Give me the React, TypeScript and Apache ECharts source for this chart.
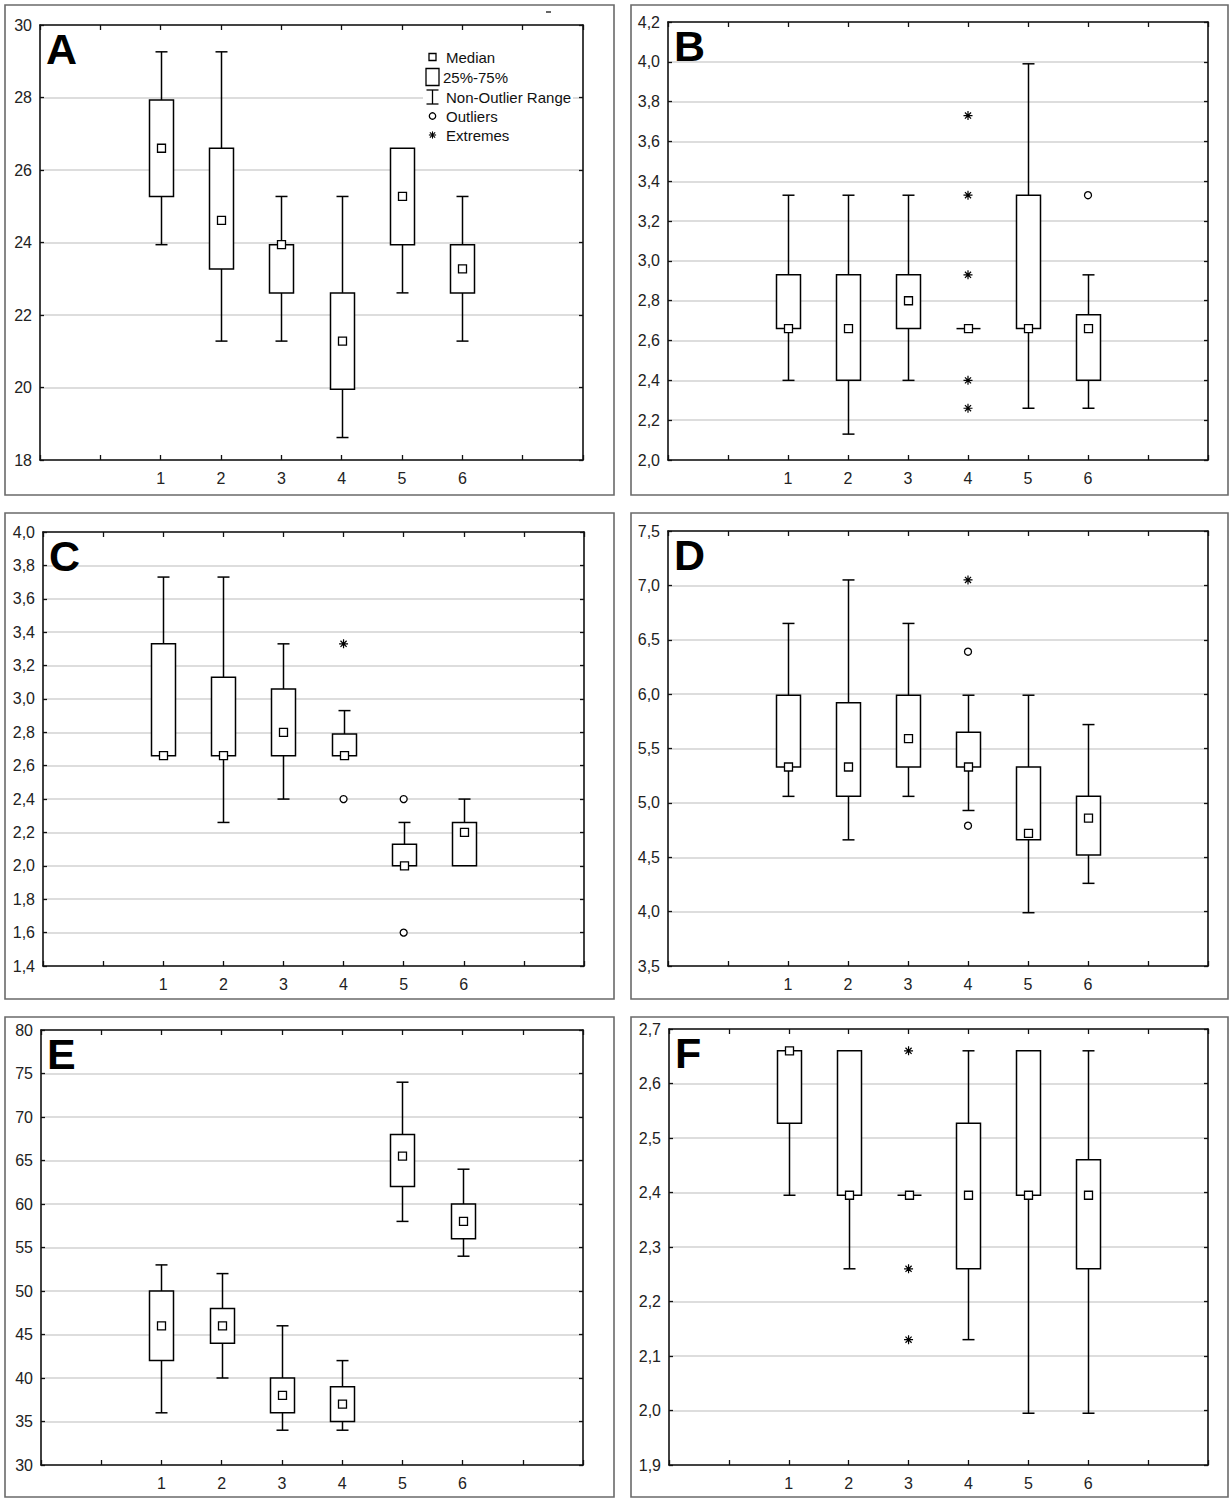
import React, { useEffect, useRef } from "react";
import * as echarts from "echarts";

// ---------- data ----------
const CATEGORIES = [1, 2, 3, 4, 5, 6];
const PANEL_LETTERS = ["A", "B", "C", "D", "E", "F"];

// each box: [low whisker, Q1, median, Q3, high whisker]
const A_BOXES = [
  [23.94, 25.27, 26.6, 27.93, 29.26],
  [21.28, 23.27, 24.61, 26.6, 29.26],
  [21.28, 22.61, 23.94, 23.94, 25.27],
  [18.62, 19.95, 21.28, 22.61, 25.27],
  [22.61, 23.94, 25.27, 26.6, 26.6],
  [21.28, 22.61, 23.27, 23.94, 25.27],
];
const A_OUTLIERS: number[][] = [];
const A_EXTREMES: number[][] = [];

const B_BOXES = [
  [2.4, 2.66, 2.66, 2.93, 3.33],
  [2.13, 2.4, 2.66, 2.93, 3.33],
  [2.4, 2.66, 2.8, 2.93, 3.33],
  [2.66, 2.66, 2.66, 2.66, 2.66],
  [2.26, 2.66, 2.66, 3.33, 3.99],
  [2.26, 2.4, 2.66, 2.73, 2.93],
];
const B_OUTLIERS = [[6, 3.33]];
const B_EXTREMES = [[4, 3.73], [4, 3.33], [4, 2.93], [4, 2.4], [4, 2.26]];

const C_BOXES = [
  [2.66, 2.66, 2.66, 3.33, 3.73],
  [2.26, 2.66, 2.66, 3.13, 3.73],
  [2.4, 2.66, 2.8, 3.06, 3.33],
  [2.66, 2.66, 2.66, 2.79, 2.93],
  [2.0, 2.0, 2.0, 2.13, 2.26],
  [2.0, 2.0, 2.2, 2.26, 2.4],
];
const C_OUTLIERS = [[4, 2.4], [5, 2.4], [5, 1.6]];
const C_EXTREMES = [[4, 3.33]];

const D_BOXES = [
  [5.06, 5.33, 5.33, 5.99, 6.65],
  [4.66, 5.06, 5.33, 5.92, 7.05],
  [5.06, 5.33, 5.59, 5.99, 6.65],
  [4.93, 5.33, 5.33, 5.65, 5.99],
  [3.99, 4.66, 4.72, 5.33, 5.99],
  [4.26, 4.52, 4.86, 5.06, 5.72],
];
const D_OUTLIERS = [[4, 6.39], [4, 4.79]];
const D_EXTREMES = [[4, 7.05]];

const E_BOXES = [
  [36, 42, 46, 50, 53],
  [40, 44, 46, 48, 52],
  [34, 36, 38, 40, 46],
  [34, 35, 37, 39, 42],
  [58, 62, 65.5, 68, 74],
  [54, 56, 58, 60, 64],
];
const E_OUTLIERS: number[][] = [];
const E_EXTREMES: number[][] = [];

const F_BOXES = [
  [2.395, 2.527, 2.66, 2.66, 2.66],
  [2.26, 2.395, 2.395, 2.66, 2.66],
  [2.395, 2.395, 2.395, 2.395, 2.395],
  [2.13, 2.26, 2.395, 2.527, 2.66],
  [1.995, 2.395, 2.395, 2.66, 2.66],
  [1.995, 2.26, 2.395, 2.46, 2.66],
];
const F_OUTLIERS: number[][] = [];
const F_EXTREMES = [[3, 2.66], [3, 2.26], [3, 2.13]];

const Y_MIN = [18, 2.0, 1.4, 3.5, 30, 1.9];
const Y_MAX = [30, 4.2, 4.0, 7.5, 80, 2.7];
const Y_STEP = [2, 0.2, 0.2, 0.5, 5, 0.1];
const Y_DECIMALS = [0, 1, 1, 1, 0, 1];

const LEGEND_LABELS = ["Median", "25%-75%", "Non-Outlier Range", "Outliers", "Extremes"];

const ALL_BOXES = [A_BOXES, B_BOXES, C_BOXES, D_BOXES, E_BOXES, F_BOXES];
const ALL_OUTLIERS = [A_OUTLIERS, B_OUTLIERS, C_OUTLIERS, D_OUTLIERS, E_OUTLIERS, F_OUTLIERS];
const ALL_EXTREMES = [A_EXTREMES, B_EXTREMES, C_EXTREMES, D_EXTREMES, E_EXTREMES, F_EXTREMES];

// ---------- layout ----------
const GRIDS = [
  { left: 40, top: 25, width: 543, height: 435 },
  { left: 668, top: 22, width: 540, height: 438 },
  { left: 43, top: 532, width: 541, height: 434 },
  { left: 668, top: 531, width: 540, height: 435 },
  { left: 41, top: 1030, width: 542, height: 435 },
  { left: 669, top: 1029, width: 539, height: 436 },
];
const BORDERS = [
  { x: 5, y: 5, width: 609, height: 490 },
  { x: 631, y: 5, width: 597, height: 490 },
  { x: 5, y: 513, width: 609, height: 486 },
  { x: 631, y: 513, width: 597, height: 486 },
  { x: 5, y: 1017, width: 609, height: 480 },
  { x: 631, y: 1017, width: 597, height: 480 },
];

const TICK_FONT = "'Liberation Sans Narrow', 'Arial Narrow', 'Liberation Sans', Arial, sans-serif";
const TEXT_FONT = "'Liberation Sans', Arial, sans-serif";
const ASTERISK = "path://M0,5L10,5M5,0L5,10M1.6,1.6L8.4,8.4M8.4,1.6L1.6,8.4";

function boxRenderItem(params: any, api: any) {
  const x = api.value(0);
  const lo = api.coord([x, api.value(1)]);
  const q1 = api.coord([x, api.value(2)]);
  const md = api.coord([x, api.value(3)]);
  const q3 = api.coord([x, api.value(4)]);
  const hi = api.coord([x, api.value(5)]);
  const cx = Math.round(lo[0]) + 0.5;
  const bw = 24;
  const cw = 12;
  const ms = 8;
  const ls = { stroke: "#000", lineWidth: 1.5 };
  const children: any[] = [];
  if (hi[1] < q3[1] - 0.5) {
    children.push({ type: "line", shape: { x1: cx, y1: q3[1], x2: cx, y2: hi[1] }, style: ls });
    children.push({ type: "line", shape: { x1: cx - cw / 2, y1: hi[1], x2: cx + cw / 2, y2: hi[1] }, style: ls });
  }
  if (lo[1] > q1[1] + 0.5) {
    children.push({ type: "line", shape: { x1: cx, y1: q1[1], x2: cx, y2: lo[1] }, style: ls });
    children.push({ type: "line", shape: { x1: cx - cw / 2, y1: lo[1], x2: cx + cw / 2, y2: lo[1] }, style: ls });
  }
  if (q1[1] - q3[1] > 0.5) {
    children.push({
      type: "rect",
      shape: { x: cx - bw / 2, y: q3[1], width: bw, height: q1[1] - q3[1] },
      style: { fill: "#fff", stroke: "#000", lineWidth: 1.5 },
    });
  } else {
    children.push({ type: "line", shape: { x1: cx - bw / 2, y1: q1[1], x2: cx + bw / 2, y2: q1[1] }, style: ls });
  }
  children.push({
    type: "rect",
    shape: { x: cx - ms / 2, y: md[1] - ms / 2, width: ms, height: ms },
    style: { fill: "#fff", stroke: "#000", lineWidth: 1.3 },
  });
  return { type: "group", children };
}

function buildOption() {
  const grid: any[] = [];
  const xAxis: any[] = [];
  const yAxis: any[] = [];
  const series: any[] = [];
  const graphic: any[] = [];

  for (let i = 0; i < 6; i++) {
    grid.push({ ...GRIDS[i], show: false, containLabel: false });
    const dec = Y_DECIMALS[i];
    const baseX = {
      type: "value",
      gridIndex: i,
      min: -1,
      max: 8,
      interval: 1,
      axisLine: { show: true, onZero: false, lineStyle: { color: "#111", width: 1.6 } },
      axisTick: { show: true, inside: true, length: 5, lineStyle: { color: "#111", width: 1.3 } },
      splitLine: { show: false },
    };
    xAxis.push({
      ...baseX,
      position: "bottom",
      axisLabel: {
        show: true,
        margin: 10,
        fontSize: 16,
        color: "#222",
        fontFamily: TICK_FONT,
        formatter: (v: number) => (CATEGORIES.indexOf(v) >= 0 ? String(v) : ""),
      },
    });
    xAxis.push({ ...baseX, position: "top", axisLabel: { show: false } });
    const baseY = {
      type: "value",
      gridIndex: i,
      min: Y_MIN[i],
      max: Y_MAX[i],
      interval: Y_STEP[i],
      axisLine: { show: true, onZero: false, lineStyle: { color: "#111", width: 1.6 } },
      axisTick: { show: true, inside: true, length: 4, lineStyle: { color: "#111", width: 1.3 } },
    };
    yAxis.push({
      ...baseY,
      position: "left",
      axisLabel: {
        show: true,
        margin: 8,
        fontSize: 16,
        color: "#222",
        fontFamily: TICK_FONT,
        formatter: (v: number) => v.toFixed(dec).replace(".", ","),
      },
      splitLine: { show: true, lineStyle: { color: "#d2d2d2", width: 1.5 } },
    });
    yAxis.push({ ...baseY, position: "right", axisLabel: { show: false }, splitLine: { show: false } });

    series.push({
      type: "custom",
      xAxisIndex: 2 * i,
      yAxisIndex: 2 * i,
      silent: true,
      z: 5,
      renderItem: boxRenderItem,
      data: ALL_BOXES[i].map((b, k) => [CATEGORIES[k], ...b]),
    });
    series.push({
      type: "scatter",
      xAxisIndex: 2 * i,
      yAxisIndex: 2 * i,
      silent: true,
      z: 6,
      symbol: "circle",
      symbolSize: 7,
      itemStyle: { color: "#fff", borderColor: "#000", borderWidth: 1.3, opacity: 1 },
      data: ALL_OUTLIERS[i],
    });
    series.push({
      type: "scatter",
      xAxisIndex: 2 * i,
      yAxisIndex: 2 * i,
      silent: true,
      z: 6,
      symbol: ASTERISK,
      symbolSize: 9,
      itemStyle: { color: "transparent", borderColor: "#000", borderWidth: 1.2, opacity: 1 },
      data: ALL_EXTREMES[i],
    });

    graphic.push({
      type: "rect",
      shape: BORDERS[i],
      style: { fill: "none", stroke: "#6a6a6a", lineWidth: 1.6 },
      z: 50,
      silent: true,
    });
    graphic.push({
      type: "text",
      x: GRIDS[i].left + 6,
      y: GRIDS[i].top + 24,
      style: {
        text: PANEL_LETTERS[i],
        font: `bold 43px ${TEXT_FONT}`,
        fill: "#000",
        textAlign: "left",
        textVerticalAlign: "middle",
        verticalAlign: "middle",
      },
      z: 60,
      silent: true,
    });
  }

  // legend inside panel A
  const lx = 432.5;
  const ls = { stroke: "#000", lineWidth: 1.3 };
  const legendRows = [57, 77, 97, 116, 135];
  graphic.push({ type: "rect", shape: { x: 423, y: 46, width: 150, height: 98 }, style: { fill: "#fff" }, z: 70, silent: true });
  graphic.push({ type: "rect", shape: { x: lx - 3.5, y: legendRows[0] - 3.5, width: 7, height: 7 }, style: { fill: "#fff", ...ls }, z: 71 });
  graphic.push({ type: "rect", shape: { x: lx - 6.5, y: legendRows[1] - 8.5, width: 13, height: 17 }, style: { fill: "#fff", ...ls }, z: 71 });
  graphic.push({ type: "line", shape: { x1: lx, y1: legendRows[2] - 7, x2: lx, y2: legendRows[2] + 7 }, style: ls, z: 71 });
  graphic.push({ type: "line", shape: { x1: lx - 6, y1: legendRows[2] - 7, x2: lx + 6, y2: legendRows[2] - 7 }, style: ls, z: 71 });
  graphic.push({ type: "line", shape: { x1: lx - 6, y1: legendRows[2] + 7, x2: lx + 6, y2: legendRows[2] + 7 }, style: ls, z: 71 });
  graphic.push({ type: "circle", shape: { cx: lx, cy: legendRows[3], r: 3.2 }, style: { fill: "#fff", ...ls }, z: 71 });
  const ay = legendRows[4];
  const a = 3.6;
  graphic.push({ type: "line", shape: { x1: lx - a, y1: ay, x2: lx + a, y2: ay }, style: { stroke: "#000", lineWidth: 1.1 }, z: 71 });
  graphic.push({ type: "line", shape: { x1: lx, y1: ay - a, x2: lx, y2: ay + a }, style: { stroke: "#000", lineWidth: 1.1 }, z: 71 });
  graphic.push({ type: "line", shape: { x1: lx - 2.6, y1: ay - 2.6, x2: lx + 2.6, y2: ay + 2.6 }, style: { stroke: "#000", lineWidth: 1.1 }, z: 71 });
  graphic.push({ type: "line", shape: { x1: lx + 2.6, y1: ay - 2.6, x2: lx - 2.6, y2: ay + 2.6 }, style: { stroke: "#000", lineWidth: 1.1 }, z: 71 });
  LEGEND_LABELS.forEach((t, k) => {
    graphic.push({
      type: "text",
      x: k === 1 ? 443 : 446,
      y: legendRows[k],
      style: {
        text: t,
        font: `15px ${TEXT_FONT}`,
        fill: "#111",
        textAlign: "left",
        textVerticalAlign: "middle",
        verticalAlign: "middle",
      },
      z: 72,
      silent: true,
    });
  });
  // small stray mark at the top of panel A
  graphic.push({ type: "line", shape: { x1: 546, y1: 12, x2: 551, y2: 12 }, style: { stroke: "#000", lineWidth: 1.2 }, z: 50 });

  return {
    animation: false,
    backgroundColor: "#fff",
    grid,
    xAxis,
    yAxis,
    series,
    graphic,
  };
}

export default function App() {
  const ref = useRef<HTMLDivElement>(null);
  useEffect(() => {
    if (!ref.current) return;
    const chart = echarts.init(ref.current, null, { renderer: "svg" });
    chart.setOption(buildOption() as any);
    return () => chart.dispose();
  }, []);
  return (
    <div
      ref={ref}
      style={{ position: "absolute", left: 0, top: 0, width: 1230, height: 1498, background: "#fff" }}
    />
  );
}
